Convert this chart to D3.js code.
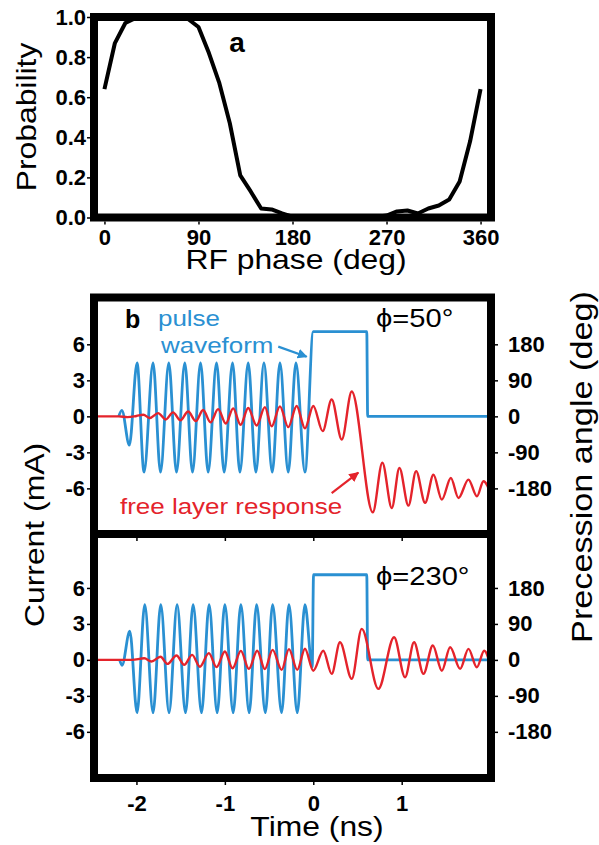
<!DOCTYPE html>
<html>
<head>
<meta charset="utf-8">
<script src="https://cdn.jsdelivr.net/npm/d3@7"></script>
<style>
  body { margin: 0; background: #fff; }
  text { font-family: "Liberation Sans", Arial, sans-serif; }
</style>
</head>
<body>
<svg id="fig" width="599" height="845"></svg>
<script>
// ---- panel a: switching probability vs RF phase ----
const phaseDeg = [0, 10, 20, 30, 40, 50, 60, 70, 80, 90, 100, 110, 120, 130, 140, 150, 160, 170, 180,
    190, 200, 210, 220, 230, 240, 250, 260, 270, 280, 290, 300, 310, 320, 330, 340, 350, 360];
const switchProb = [0.64, 0.87, 0.97, 0.995, 1, 1, 1, 1, 0.99, 0.95, 0.82, 0.67, 0.47, 0.21, 0.13, 0.045, 0.04, 0.02, 0.004,
    0, 0, 0, 0.003, 0, 0, 0, 0.003, 0.01, 0.03, 0.035, 0.02, 0.045, 0.06, 0.09, 0.18, 0.38, 0.64];
const phaseTicks = [0, 90, 180, 270, 360];
const probTicks = [0, 0.2, 0.4, 0.6, 0.8, 1.0];

// ---- panel b: pulse waveform (mA) and free layer response (deg) ----
const currentTicks = [-6, -3, 0, 3, 6];
const angleTicks = [-180, -90, 0, 90, 180];
const timeTicks = [-2, -1, 0, 1];

// phi = 50 deg
const driveT50 = [-2.20, -2.165, -2.08, -1.993, -1.914, -1.812, -1.728, -1.634, -1.547, -1.453, -1.366, -1.275, -1.189,
    -1.094, -1.008, -0.913, -0.830, -0.736, -0.649, -0.558, -0.464, -0.377, -0.283, -0.196, -0.094, 0.0, 0.605, 0.615, 2.01];
const driveI50 = [0, 0.5, -2.4, 4.45, -4.65, 4.45, -4.65, 4.45, -4.65, 4.45, -4.65, 4.45, -4.65,
    4.45, -4.65, 4.45, -4.65, 4.45, -4.65, 4.45, -4.65, 4.45, -4.65, 4.45, -4.65, 7.05, 7.05, 0, 0];
const respT50 = [-2.48, -2.2, -2.1, -2.0, -1.922, -1.849, -1.755, -1.668, -1.586, -1.502, -1.416, -1.328, -1.246, -1.162,
    -1.076, -0.989, -0.906, -0.822, -0.736, -0.641, -0.547, -0.471, -0.377, -0.283, -0.188, -0.094,
    0.0, 0.106, 0.208, 0.322, 0.435, 0.673, 0.781, 0.888, 0.974, 1.076, 1.163, 1.265, 1.359, 1.454,
    1.556, 1.642, 1.755, 1.851, 1.925, 2.01];
const respA50 = [0, 0, -2, 1, 4, -4, 8, -8, 10, -10, 12, -12, 16, -15,
    18, -18, 20, -21, 21, -23, 23, -25, 25, -27, 26, -30,
    26, -37, 42, -58, 62, -240, -116, -229, -129, -223, -137, -216, -146, -208,
    -154, -204, -158, -200, -162, -195];

// phi = 230 deg
const driveT230 = [-2.19, -2.163, -2.075, -1.993, -1.906, -1.812, -1.725, -1.631, -1.540, -1.445, -1.359, -1.264, -1.178,
    -1.087, -1.0, -0.906, -0.819, -0.725, -0.641, -0.542, -0.460, -0.358, -0.275, -0.181, -0.094, -0.012, 0.003, 0.605, 0.615, 2.01];
const driveI230 = [0, -0.45, 2.4, -4.4, 4.6, -4.4, 4.6, -4.4, 4.6, -4.4, 4.6, -4.4, 4.6,
    -4.4, 4.6, -4.4, 4.6, -4.4, 4.6, -4.4, 4.6, -4.4, 4.6, -4.4, 4.6, -0.6, 7.1, 7.1, 0, 0];
const respT230 = [-2.48, -2.05, -1.911, -1.830, -1.728, -1.649, -1.547, -1.460, -1.370, -1.283, -1.181, -1.094, -1.0,
    -0.913, -0.819, -0.729, -0.634, -0.548, -0.460, -0.358, -0.275, -0.181, -0.094,
    0.0, 0.113, 0.208, 0.302, 0.435, 0.548, 0.736, 0.914, 1.038, 1.140, 1.246, 1.352, 1.454, 1.548,
    1.661, 1.755, 1.850, 1.933, 2.01];
const respA230 = [0, 0, 4, -4, 8, -10, 11, -12.5, 12.5, -17, 17, -18, 21,
    -21, 22.5, -22.5, 23, -23, 25, -25, 27, -25, 28,
    -27, 23, -35, 44, -47.5, 77.5, -72.5, 56.5, -43.5, 44, -35, 36, -27, 31.5,
    -22.5, 27.5, -18.5, 23, -20];

const BLUE = "#2a90d2";
const RED = "#e4232b";
const FONT = "'Liberation Sans', Arial, sans-serif";
const WIDE = 1.18; // the lettering in the figure is set a bit wider than Arial

const svg = d3.select("#fig");

const styleAxis = (g, size) => {
    g.attr("font-family", FONT);
    g.select(".domain").remove();
    g.selectAll(".tick line").attr("stroke", "#000").attr("stroke-width", 1.5);
    g.selectAll(".tick text")
        .attr("font-size", size)
        .attr("font-weight", "bold")
        .attr("fill", "#000");
};

// text placed at (x, y) baseline, optionally rotated, stretched along its baseline
const label = (x, y, txt, { size = 27, rotate = 0, anchor = "start", weight = "normal", fill = "#000", sx = WIDE } = {}) =>
    svg.append("text")
        .attr("transform", `translate(${x},${y}) rotate(${rotate}) scale(${sx},1)`)
        .attr("text-anchor", anchor)
        .attr("font-size", size)
        .attr("font-weight", weight)
        .attr("fill", fill)
        .text(txt);

// ===== panel a =====
const xa = d3.scaleLinear().domain([-10, 370]).range([94, 491]);
const ya = d3.scaleLinear().domain([0, 1]).range([217.5, 17]);

svg.append("path")
    .datum(phaseDeg.map((p, i) => ({ p, v: switchProb[i] })))
    .attr("fill", "none")
    .attr("stroke", "#000")
    .attr("stroke-width", 4)
    .attr("stroke-linejoin", "round")
    .attr("d", d3.line().x(d => xa(d.p)).y(d => ya(d.v)));

svg.append("rect")
    .attr("x", xa.range()[0]).attr("y", ya.range()[1])
    .attr("width", xa.range()[1] - xa.range()[0])
    .attr("height", ya.range()[0] - ya.range()[1])
    .attr("fill", "none").attr("stroke", "#000").attr("stroke-width", 8);

svg.append("g")
    .attr("transform", "translate(90,0)")
    .call(d3.axisLeft(ya).tickValues(probTicks).tickSize(3).tickPadding(1).tickFormat(d => d.toFixed(1)))
    .call(g => styleAxis(g, 22));

svg.append("g")
    .attr("transform", "translate(0,221.5)")
    .call(d3.axisBottom(xa).tickValues(phaseTicks).tickSize(3).tickPadding(5).tickFormat(d => String(d)))
    .call(g => styleAxis(g, 22));

label(237, 52, "a", { size: 28, anchor: "middle", weight: "bold", sx: 1 });
label(296, 269, "RF phase (deg)", { anchor: "middle" });
label(36, 117, "Probability", { rotate: -90, anchor: "middle" });

// ===== panel b =====
const xb = d3.scaleLinear().domain([-2.48, 2.01]).range([94, 491]);
const yTop = d3.scaleLinear().domain([-9.8, 9.9]).range([534, 297.5]);
const yBot = d3.scaleLinear().domain([-9.85, 10.5]).range([778, 534]);
const angleOf = s => d3.scaleLinear().domain(s.domain().map(d => d * 30)).range(s.range());
const aTop = angleOf(yTop);
const aBot = angleOf(yBot);

const defs = svg.append("defs");
[["arrowBlue", BLUE], ["arrowRed", RED]].forEach(([id, c]) => {
    defs.append("marker")
        .attr("id", id)
        .attr("viewBox", "0 0 10 10")
        .attr("refX", 9).attr("refY", 5)
        .attr("markerWidth", 4.5).attr("markerHeight", 4.5)
        .attr("orient", "auto")
        .append("path")
        .attr("d", "M0,0 L10,5 L0,10 Z")
        .attr("fill", c);
});

const drawPanel = (yI, yA, tDrive, iDrive, tResp, aResp) => {
    const drive = tDrive.map((t, i) => ({ t, v: iDrive[i] }));
    const resp = tResp.map((t, i) => ({ t, v: aResp[i] }));
    svg.append("path")
        .datum(drive)
        .attr("fill", "none")
        .attr("stroke", BLUE)
        .attr("stroke-width", 2.8)
        .attr("d", d3.line().curve(d3.curveMonotoneX).x(d => xb(d.t)).y(d => yI(d.v)));
    svg.append("path")
        .datum(resp)
        .attr("fill", "none")
        .attr("stroke", RED)
        .attr("stroke-width", 2.4)
        .attr("d", d3.line().curve(d3.curveMonotoneX).x(d => xb(d.t)).y(d => yA(d.v)));

    svg.append("g")
        .attr("transform", "translate(90,0)")
        .call(d3.axisLeft(yI).tickValues(currentTicks).tickSize(3).tickPadding(2).tickFormat(d => String(d)))
        .call(g => styleAxis(g, 22));
    svg.append("g")
        .attr("transform", "translate(495,0)")
        .call(d3.axisRight(yA).tickValues(angleTicks).tickSize(3).tickPadding(10).tickFormat(d => String(d)))
        .call(g => styleAxis(g, 22));
};

drawPanel(yTop, aTop, driveT50, driveI50, respT50, respA50);
drawPanel(yBot, aBot, driveT230, driveI230, respT230, respA230);

// x ticks below the divider (top panel) and bottom axis
svg.append("g")
    .attr("transform", "translate(0,538)")
    .call(d3.axisBottom(xb).tickValues(timeTicks).tickSize(3).tickFormat(""))
    .call(g => styleAxis(g, 22));
svg.append("g")
    .attr("transform", "translate(0,782)")
    .call(d3.axisBottom(xb).tickValues(timeTicks).tickSize(3).tickPadding(10).tickFormat(d => String(d)))
    .call(g => styleAxis(g, 22));

// frames
svg.append("rect")
    .attr("x", xb.range()[0]).attr("y", yTop.range()[1])
    .attr("width", xb.range()[1] - xb.range()[0])
    .attr("height", yBot.range()[0] - yTop.range()[1])
    .attr("fill", "none").attr("stroke", "#000").attr("stroke-width", 8);
svg.append("line")
    .attr("x1", xb.range()[0]).attr("x2", xb.range()[1])
    .attr("y1", yTop.range()[0]).attr("y2", yTop.range()[0])
    .attr("stroke", "#000").attr("stroke-width", 8);

// annotations
label(125, 328, "b", { size: 25, weight: "bold", sx: 1 });
label(158, 326, "pulse", { size: 22, fill: BLUE });
label(161, 353, "waveform", { size: 22, fill: BLUE });
svg.append("line")
    .attr("x1", xb(-0.396)).attr("y1", yTop(5.81))
    .attr("x2", xb(-0.075)).attr("y2", yTop(4.97))
    .attr("stroke", BLUE).attr("stroke-width", 2.2)
    .attr("marker-end", "url(#arrowBlue)");

label(120, 514, "free layer response", { size: 22, fill: RED });
svg.append("line")
    .attr("x1", xb(0.208)).attr("y1", yTop(-6.4))
    .attr("x2", xb(0.509)).attr("y2", yTop(-4.69))
    .attr("stroke", RED).attr("stroke-width", 2.2)
    .attr("marker-end", "url(#arrowRed)");

label(376, 327, "\u03d5=50\u00b0", { size: 26, sx: 1.12 });
label(376, 585, "\u03d5=230\u00b0", { size: 26, sx: 1.12 });

// axis titles
label(44, 535, "Current (mA)", { rotate: -90, anchor: "middle" });
label(592, 467, "Precession angle (deg)", { size: 29, rotate: -90, anchor: "middle" });
label(317, 836, "Time (ns)", { anchor: "middle" });
</script>
</body>
</html>
